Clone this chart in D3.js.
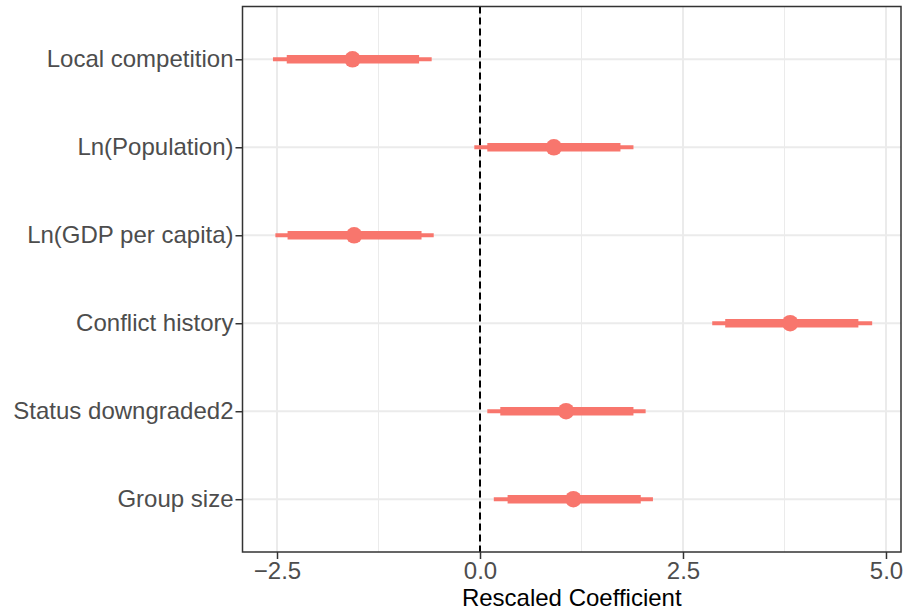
<!DOCTYPE html>
<html>
<head>
<meta charset="utf-8">
<script src="https://cdn.jsdelivr.net/npm/d3@7"></script>
<style>
  html, body { margin: 0; padding: 0; background: #fff; }
  svg { display: block; }
</style>
</head>
<body>
<div id="chart"></div>
<script>
// ── Coefficient plot data ─────────────────────────────────────
const terms     = ['Local competition', 'Ln(Population)', 'Ln(GDP per capita)',
                   'Conflict history', 'Status downgraded2', 'Group size'];
const estimates = [-1.57, 0.91, -1.55, 3.82, 1.06, 1.15];
const thickLow  = [-2.38, 0.09, -2.37, 3.02, 0.25, 0.34];
const thickHigh = [-0.75, 1.73, -0.72, 4.66, 1.89, 1.98];
const thinLow   = [-2.55, -0.07, -2.52, 2.86, 0.09, 0.17];
const thinHigh  = [-0.595, 1.89, -0.57, 4.83, 2.04, 2.13];
const xTicks      = [-2.5, 0, 2.5, 5];
const xTickLabels = ['\u22122.5', '0.0', '2.5', '5.0'];
const xMinor      = [-1.25, 1.25, 3.75];

const rows = terms.map((t, i) => ({
  term: t, est: estimates[i],
  lo1: thickLow[i], hi1: thickHigh[i],
  lo2: thinLow[i],  hi2: thinHigh[i],
}));

const W = 908, H = 614;
const panel = { left: 242.5, top: 6.5, right: 901, bottom: 552 };
const col = '#F8766D';
const font = "'Liberation Sans', Arial, sans-serif";

const svg = d3.select('#chart').append('svg')
  .attr('width', W).attr('height', H);

const x = d3.scaleLinear().domain([-2.925, 5.185]).range([panel.left, panel.right]);
const y = d3.scalePoint().domain(terms).range([panel.top, panel.bottom]).padding(0.6);

// grid
const grid = svg.append('g');
grid.selectAll('.minor').data(xMinor).enter().append('line')
  .attr('x1', d => x(d)).attr('x2', d => x(d))
  .attr('y1', panel.top).attr('y2', panel.bottom)
  .attr('stroke', '#EBEBEB').attr('stroke-width', 1);
grid.selectAll('.majx').data(xTicks).enter().append('line')
  .attr('x1', d => x(d)).attr('x2', d => x(d))
  .attr('y1', panel.top).attr('y2', panel.bottom)
  .attr('stroke', '#EBEBEB').attr('stroke-width', 2);
grid.selectAll('.majy').data(terms).enter().append('line')
  .attr('x1', panel.left).attr('x2', panel.right)
  .attr('y1', d => y(d)).attr('y2', d => y(d))
  .attr('stroke', '#EBEBEB').attr('stroke-width', 2);

// zero reference
svg.append('line')
  .attr('x1', x(0)).attr('x2', x(0))
  .attr('y1', panel.top).attr('y2', panel.bottom)
  .attr('stroke', '#000').attr('stroke-width', 2)
  .attr('stroke-dasharray', '7,4');

// intervals + points
const g = svg.append('g');
g.selectAll('.thin').data(rows).enter().append('line')
  .attr('x1', d => x(d.lo2)).attr('x2', d => x(d.hi2))
  .attr('y1', d => y(d.term)).attr('y2', d => y(d.term))
  .attr('stroke', col).attr('stroke-width', 4);
g.selectAll('.thick').data(rows).enter().append('line')
  .attr('x1', d => x(d.lo1)).attr('x2', d => x(d.hi1))
  .attr('y1', d => y(d.term)).attr('y2', d => y(d.term))
  .attr('stroke', col).attr('stroke-width', 8.5);
g.selectAll('circle').data(rows).enter().append('circle')
  .attr('cx', d => x(d.est)).attr('cy', d => y(d.term))
  .attr('r', 8.3).attr('fill', col);

// panel border
svg.append('rect')
  .attr('x', panel.left).attr('y', panel.top)
  .attr('width', panel.right - panel.left).attr('height', panel.bottom - panel.top)
  .attr('fill', 'none').attr('stroke', '#333').attr('stroke-width', 1.5);

// x axis
const xAxis = svg.append('g').attr('transform', `translate(0,${panel.bottom})`)
  .call(d3.axisBottom(x).tickValues(xTicks).tickSize(7).tickPadding(3)
    .tickFormat((d, i) => xTickLabels[i]));
xAxis.select('.domain').remove();
xAxis.selectAll('line').attr('stroke', '#333').attr('stroke-width', 1.5);
xAxis.selectAll('text').attr('fill', '#4D4D4D')
  .attr('font-family', font).attr('font-size', '24px');

// y axis
const yAxis = svg.append('g').attr('transform', `translate(${panel.left},0)`)
  .call(d3.axisLeft(y).tickSize(7).tickPadding(2));
yAxis.select('.domain').remove();
yAxis.selectAll('line').attr('stroke', '#333').attr('stroke-width', 1.5);
yAxis.selectAll('text').attr('fill', '#4D4D4D')
  .attr('font-family', font).attr('font-size', '24px');

// axis title
svg.append('text')
  .attr('x', (panel.left + panel.right) / 2).attr('y', 606)
  .attr('text-anchor', 'middle')
  .attr('font-family', font).attr('font-size', '24px').attr('fill', '#000')
  .text('Rescaled Coefficient');
</script>
</body>
</html>
